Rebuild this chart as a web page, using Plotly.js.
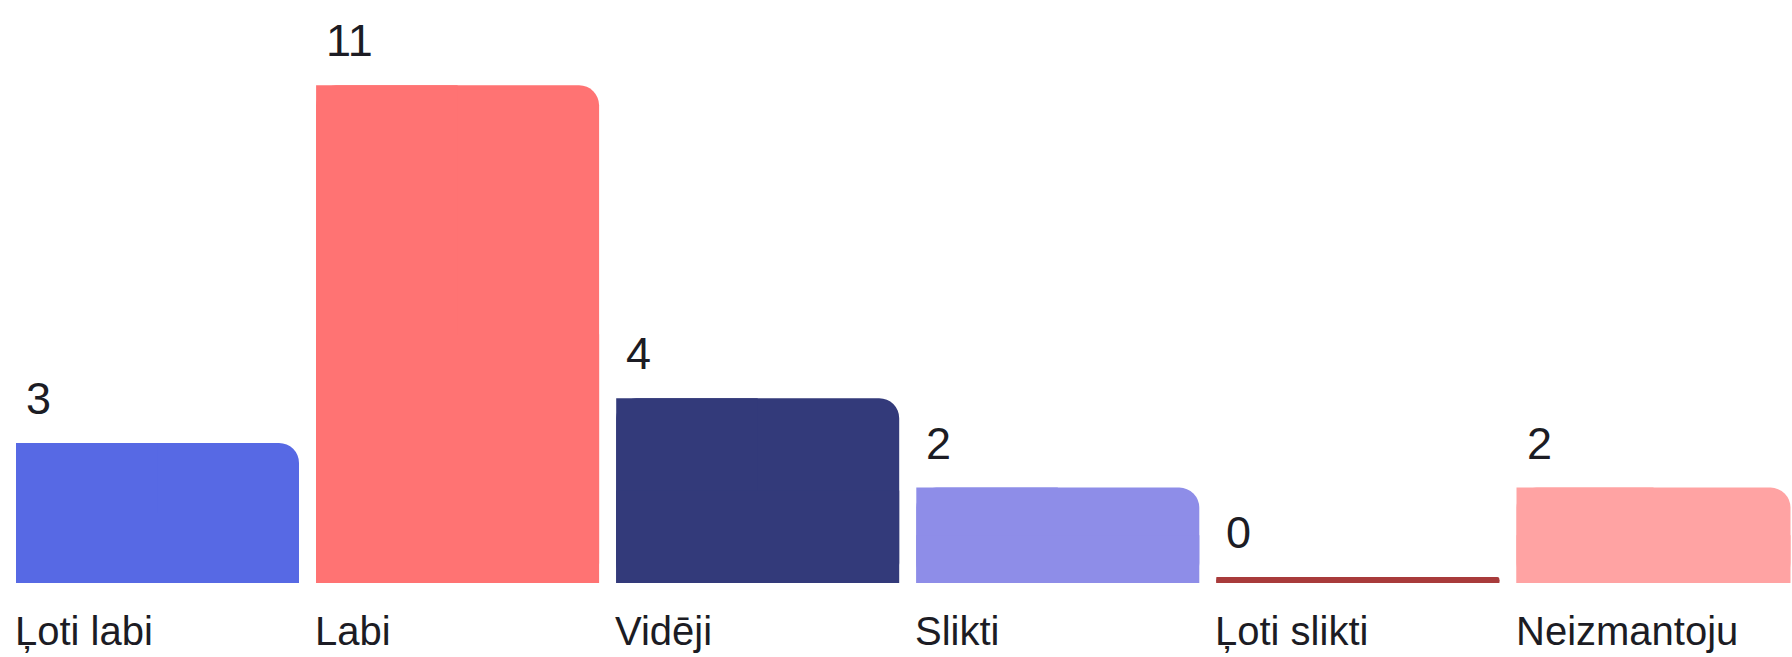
<!DOCTYPE html>
<html>
<head>
<meta charset="utf-8">
<script src="https://cdn.plot.ly/plotly-3.0.1.min.js"></script>
<style>
  html, body { margin: 0; padding: 0; background: #ffffff; }
  #chart { width: 1792px; height: 657px; }
</style>
</head>
<body>
<div id="chart"></div>
<script>
// ---- data ----
const categories = ["Ļoti labi", "Labi", "Vidēji", "Slikti", "Ļoti slikti", "Neizmantoju"];
const counts = [3, 11, 4, 2, 0, 2];
const barColors = ["#5769E4", "#FF7373", "#333A7A", "#8E8DE8", "#A83B3B", "#FFA3A3"];

// ---- style / geometry ----
const W = 1792, H = 657;
const pitch = 300.1;            // px per category
const firstCenter = 157.5;      // px of first category centre
const barHalfPx = 141.5;
const baseVal = -0.134;         // bars start slightly below zero
const pxPerUnit = 44.7;
const plotBottom = 583;

const xr0 = -firstCenter / pitch;
const xr1 = xr0 + W / pitch;
const yr1 = baseVal + plotBottom / pxPerUnit;

const offset = -barHalfPx / pitch;
const widths = categories.map((c, i) => (i === categories.length - 1 ? 274 : 283) / pitch);
const halfWidths = widths.map(w => w / 2);
const xIdx = categories.map((c, i) => i);
const heights = counts.map(v => v - baseVal);

const textColor = "#1c1c24";

// rounded top-right corner
const traceRounded = {
  type: "bar", x: xIdx, y: heights, base: baseVal,
  width: widths, offset: offset,
  marker: { color: barColors, cornerradius: 20, line: { width: 0 } },
  hoverinfo: "skip", showlegend: false
};
// square left half (keeps top-left corner square)
const traceLeft = {
  type: "bar", x: xIdx, y: heights, base: baseVal,
  width: halfWidths, offset: offset,
  marker: { color: barColors, line: { width: 0 } },
  hoverinfo: "skip", showlegend: false
};
// square lower half (keeps bottom corners square)
const traceLower = {
  type: "bar", x: xIdx, y: heights.map(h => h / 2), base: baseVal,
  width: widths, offset: offset,
  marker: { color: barColors, line: { width: 0 } },
  hoverinfo: "skip", showlegend: false
};

const annotations = [];
categories.forEach((c, i) => {
  annotations.push({
    x: i, y: counts[i], xref: "x", yref: "y",
    text: String(counts[i]),
    showarrow: false, xanchor: "left", yanchor: "bottom",
    xshift: -barHalfPx + 8, yshift: 17,
    font: { family: "Liberation Sans, Arial, sans-serif", size: 45, color: textColor }
  });
  annotations.push({
    x: i, y: 0, xref: "x", yref: "paper",
    text: c,
    showarrow: false, xanchor: "left", yanchor: "top",
    xshift: -barHalfPx - 3, yshift: -24,
    font: { family: "Liberation Sans, Arial, sans-serif", size: 40, color: textColor }
  });
});

const layout = {
  width: W, height: H,
  margin: { l: 0, r: 0, t: 0, b: H - plotBottom, pad: 0 },
  paper_bgcolor: "#ffffff",
  plot_bgcolor: "#ffffff",
  barmode: "overlay",
  xaxis: { range: [xr0, xr1], showgrid: false, zeroline: false, showticklabels: false, ticks: "", showline: false, fixedrange: true },
  yaxis: { range: [baseVal, yr1], showgrid: false, zeroline: false, showticklabels: false, ticks: "", showline: false, fixedrange: true },
  annotations: annotations,
  showlegend: false
};

Plotly.newPlot("chart", [traceRounded, traceLeft, traceLower], layout, { displayModeBar: false, staticPlot: true });
</script>
</body>
</html>
